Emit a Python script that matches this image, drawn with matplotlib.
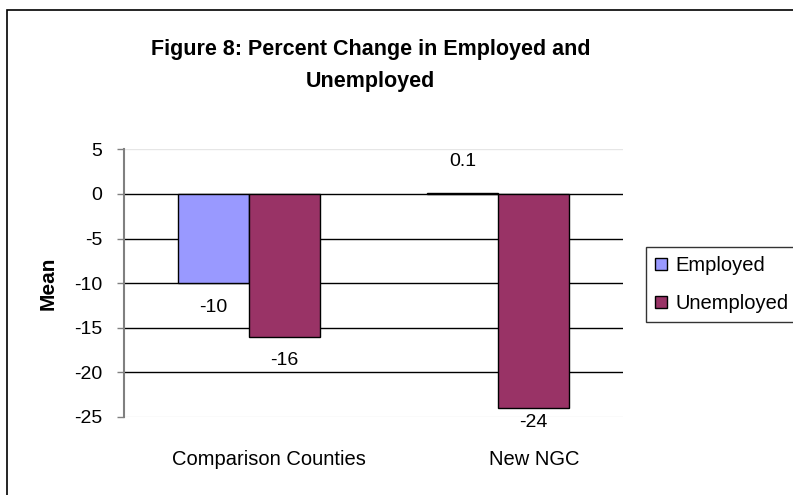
import matplotlib
matplotlib.use("Agg")
import matplotlib.pyplot as plt
import matplotlib.transforms as mtransforms
from matplotlib.patches import Rectangle
import numpy as np

plt.rcParams['font.family'] = ['Liberation Sans', 'DejaVu Sans']

categories = ["Comparison Counties", "New NGC"]
series_names = ["Employed", "Unemployed"]
employed = [-10, 0.1]
unemployed = [-16, -24]
yticks = [5, 0, -5, -10, -15, -20, -25]
colors = ["#9999FF", "#993366"]

fig = plt.figure(figsize=(7.93, 4.95), dpi=100)

# outer chart border (left and top edges visible)
fig.patches.append(Rectangle((0.0088, -0.05), 1.2, 0.98 + 0.05, transform=fig.transFigure,
                             fill=False, edgecolor="black", linewidth=1.2, zorder=0))

ax = fig.add_axes([0.1564, 0.1576, 0.6292, 0.5406])

x = np.arange(len(categories))
w = 0.285
b1 = ax.bar(x - w, employed, w, align="edge", color=colors[0], edgecolor="black",
            linewidth=1.0, label=series_names[0], zorder=3)
b2 = ax.bar(x, unemployed, w, align="edge", color=colors[1], edgecolor="black",
            linewidth=1.0, label=series_names[1], zorder=3)

ax.set_xlim(-0.5, 1.5)
ax.set_ylim(-25, 5)
ax.set_yticks(yticks)
ax.set_yticklabels([str(t) for t in yticks], fontsize=14)

# horizontal gridlines
for t in yticks:
    c = "#e6e6e6" if t in (5, -25) else "black"
    ax.axhline(t, color=c, linewidth=1.0, zorder=1)

for s in ["top", "right", "bottom"]:
    ax.spines[s].set_visible(False)
ax.spines["left"].set_color("#808080")
ax.spines["left"].set_linewidth(1.5)
ax.spines["left"].set_zorder(4)
ax.tick_params(axis="y", direction="out", length=5, width=1, color="#808080", pad=10.5)

# category labels
ax.set_xticks(x)
ax.set_xticklabels(categories, fontsize=14.5)
ax.tick_params(axis="x", length=0, pad=24)
for lbl, dx in zip(ax.get_xticklabels(), [20, 36]):
    lbl.set_transform(lbl.get_transform() + mtransforms.ScaledTranslation(dx / 100, 0, fig.dpi_scale_trans))

ax.set_ylabel("Mean", fontsize=15, fontweight="bold")
ax.yaxis.set_label_coords(-0.134, 0.5)

# value labels
for bars, vals in [(b1, employed), (b2, unemployed)]:
    for bar, v in zip(bars, vals):
        cx = bar.get_x() + bar.get_width() / 2
        ty = v + 3.5 if v > 0 else max(v - 2.7, -25.65)
        ax.text(cx, ty, f"{v:g}", ha="center", va="center", fontsize=14, zorder=5,
                clip_on=False)

fig.text(0.467, 0.868, "Figure 8: Percent Change in Employed and\nUnemployed",
         ha="center", va="center", fontsize=15.5, fontweight="bold", linespacing=1.68)

leg = fig.legend(handles=[b1, b2], labels=series_names, loc="upper left",
                 bbox_to_anchor=(0.8146, 1 - 247 / 495), fontsize=14.5, frameon=True,
                 fancybox=False, edgecolor="black", handlelength=0.6, handleheight=0.6,
                 handletextpad=0.4, borderpad=0.45, labelspacing=0.95, borderaxespad=0)
leg.get_frame().set_linewidth(1.0)

fig.savefig("out.png", dpi=100)
